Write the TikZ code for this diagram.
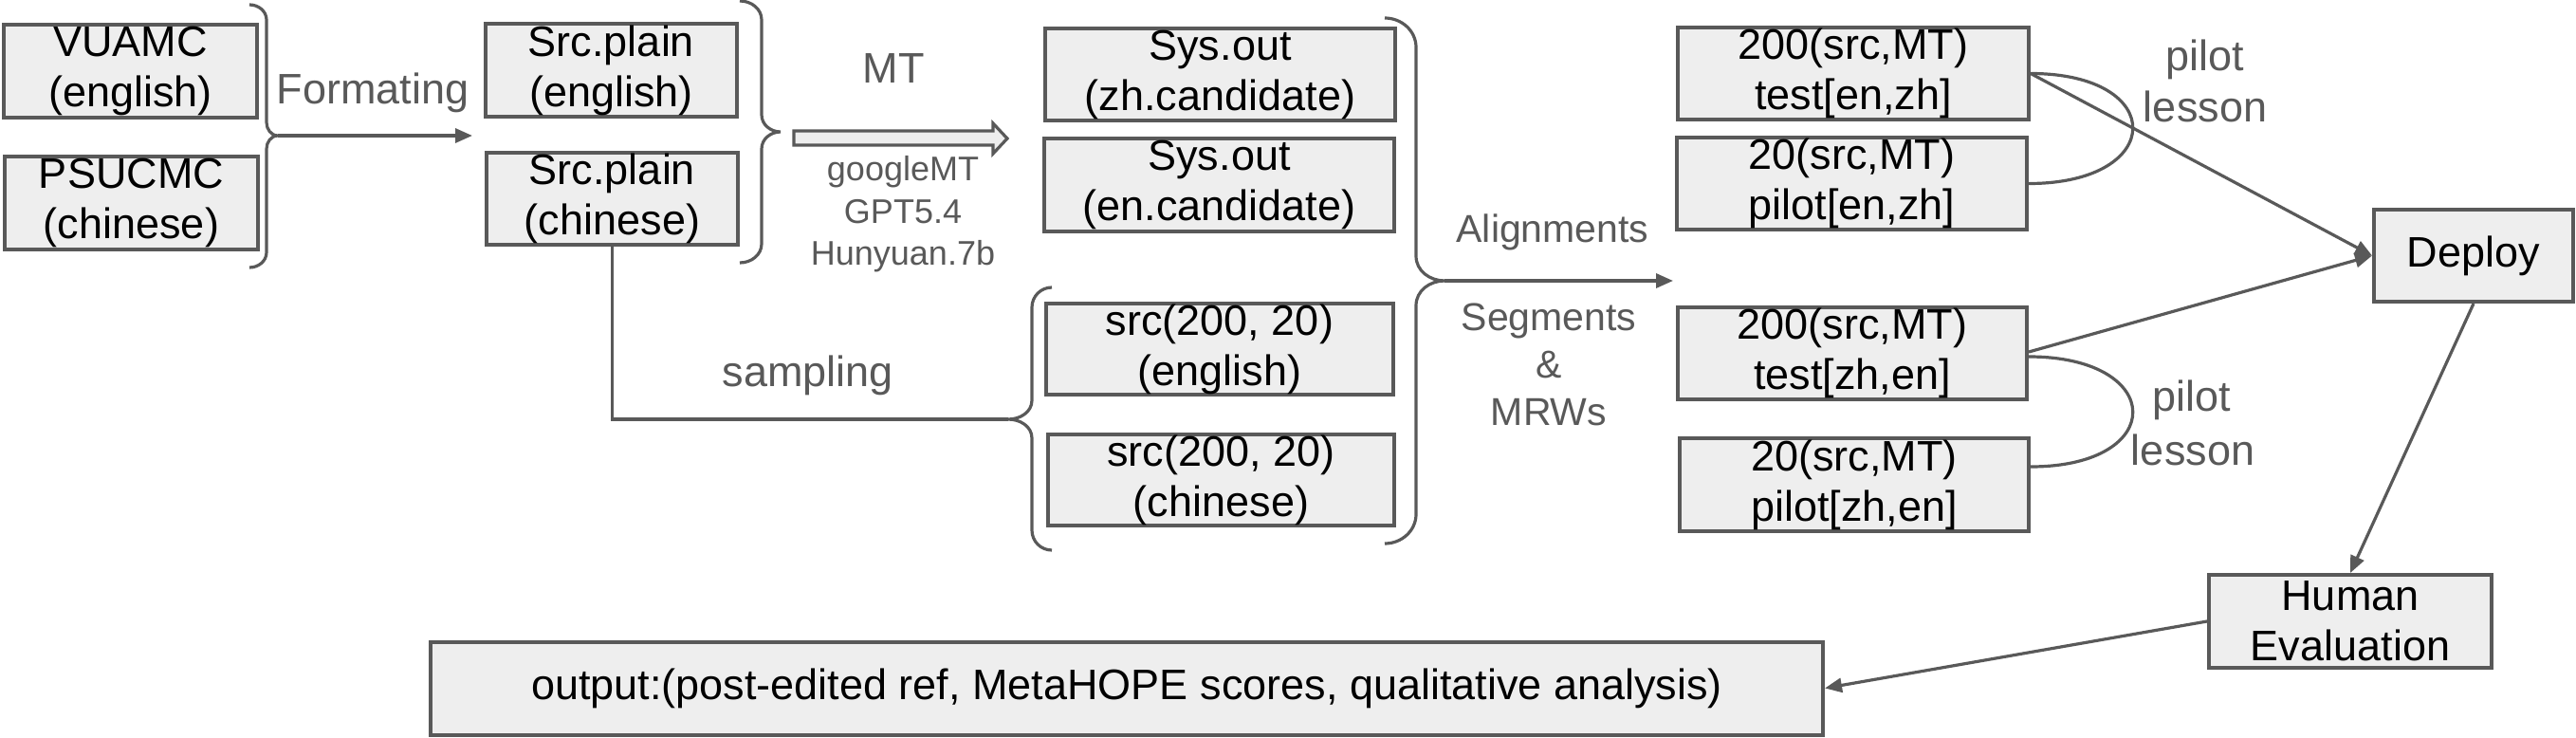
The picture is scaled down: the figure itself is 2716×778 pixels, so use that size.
\documentclass[tikz,border=0pt]{standalone}
\usepackage{fontspec}
\setmainfont{Liberation Sans}
\usetikzlibrary{arrows.meta}
\definecolor{ln}{HTML}{595959}
\definecolor{bf}{HTML}{EEEEEE}
\begin{document}
\begin{tikzpicture}[x=1pt,y=-1pt,
  nbox/.style={draw=ln, line width=4pt, fill=bf, inner sep=0pt, align=center,
    text=black, font=\fontsize{45}{53}\selectfont},
  lbl/.style={text=ln, font=\fontsize{45}{53}\selectfont, anchor=base, inner sep=0pt},
  lbls/.style={text=ln, font=\fontsize{41}{49}\selectfont, anchor=base, inner sep=0pt},
  mtlist/.style={text=ln, font=\fontsize{36}{44}\selectfont, anchor=base, inner sep=0pt},
  bracepath/.style={draw=ln, line width=3.2pt},
  conn/.style={draw=ln, line width=3.2pt},
  arr/.style={conn, -{Triangle[length=18pt,width=15pt]}},
]
\useasboundingbox (0,0) rectangle (2716,778);

% boxes
\node[nbox, minimum width=267pt, minimum height=98pt] (vuamc) at (137.5,75) {VUAMC\\(english)};
\node[nbox, minimum width=267pt, minimum height=98pt] (psucmc) at (138.5,214) {PSUCMC\\(chinese)};
\node[nbox, minimum width=265pt, minimum height=98pt] (srcen) at (644.5,74) {Src.plain\\(english)};
\node[nbox, minimum width=265pt, minimum height=97pt] (srczh) at (645.5,209.5) {Src.plain\\(chinese)};
\node[nbox, minimum width=369pt, minimum height=97pt] (syszh) at (1286.5,78.5) {Sys.out\\(zh.candidate)};
\node[nbox, minimum width=369pt, minimum height=98pt] (sysen) at (1285.5,195) {Sys.out\\(en.candidate)};
\node[nbox, minimum width=366pt, minimum height=96pt] (sampen) at (1286,368) {src(200, 20)\\(english)};
\node[nbox, minimum width=365pt, minimum height=96pt] (sampzh) at (1287.5,506) {src(200, 20)\\(chinese)};
\node[nbox, minimum width=370pt, minimum height=97pt] (testenzh) at (1954,77.5) {200(src,MT)\\test[en,zh]};
\node[nbox, minimum width=369pt, minimum height=97pt] (piloten) at (1952.5,193.5) {20(src,MT)\\pilot[en,zh]};
\node[nbox, minimum width=368pt, minimum height=97pt] (testzh) at (1953,372.5) {200(src,MT)\\test[zh,en]};
\node[nbox, minimum width=368pt, minimum height=98pt] (pilotzh) at (1955,511) {20(src,MT)\\pilot[zh,en]};
\node[nbox, minimum width=210pt, minimum height=97pt] (deploy) at (2608,269.5) {Deploy};
\node[nbox, minimum width=298pt, minimum height=98pt] (human) at (2478,655) {Human\\Evaluation};
\node[nbox, minimum width=1468pt, minimum height=98pt] (output) at (1188,725.5) {output:(post-edited ref, MetaHOPE scores, qualitative analysis)};

% braces
\coordinate (b1tip) at (293,143);
\coordinate (b2tip) at (823,139);
\coordinate (b3tip) at (1063,442);
\coordinate (b4tip) at (1523,296);
\path[bracepath] (263,5) to[out=0,in=90] (281,21) -- (281,129) to[out=-90,in=180] (b1tip)
  to[out=180,in=90] (281,157) -- (281,266) to[out=-90,in=0] (263,282);
\path[bracepath] (780,1) to[out=0,in=90] (803,21) -- (803,121) to[out=-90,in=180] (b2tip)
  to[out=180,in=90] (803,157) -- (803,257) to[out=-90,in=0] (780,277);
\path[bracepath] (1109,303) to[out=180,in=90] (1088,324) -- (1088,422) to[out=-90,in=0] (b3tip)
  to[out=0,in=90] (1088,462) -- (1088,559) to[out=-90,in=180] (1109,580);
\path[bracepath] (1460,19) to[out=0,in=90] (1493,50) -- (1493,270) to[out=-90,in=180] (b4tip)
  to[out=180,in=90] (1493,322) -- (1493,542) to[out=-90,in=0] (1460,573);

% MT block arrow
\path[draw=ln, fill=bf, line width=3.2pt, line join=miter]
  (837,138) -- (1047,138) -- (1047,130) -- (1062,146) -- (1047,162) -- (1047,153) -- (837,153) -- cycle;

% connectors
\coordinate (fmtend) at (498,143);
\coordinate (alignend) at (1764,296);
\draw[arr] (b1tip) -- (fmtend);
\draw[arr] (b4tip) -- (alignend);
\draw[conn] (srczh.south) |- (b3tip);
\draw[arr] (testenzh.east) -- (deploy.west);
\draw[arr] ([yshift=1.5pt]testzh.east) -- (deploy.west);
\draw[conn] (testenzh.east) .. controls +(145,0) and +(145,0) .. (piloten.east);
\draw[conn] ([yshift=-3.5pt]testzh.east) .. controls +(145,0) and +(145,0) .. ([yshift=19pt]pilotzh.east);
\draw[arr] (deploy.south) -- (human.north);
\draw[arr] (human.west) -- (output.east);

% labels
\node[lbl] (lfmt) at (393,110) {Formating};
\node[lbl] (lmt) at (942,88) {MT};
\node[mtlist] (lm1) at (952,190) {googleMT};
\node[mtlist] (lm2) at (952,235) {GPT5.4};
\node[mtlist] (lm3) at (952,279) {Hunyuan.7b};
\node[lbl] (lsamp) at (852,407) {sampling};
\node[lbls] (lalign) at (1637,255) {Alignments};
\node[lbls] (lseg) at (1633,348) {Segments};
\node[lbls] (lamp) at (1633,398) {\&};
\node[lbls] (lmrw) at (1633,448) {MRWs};
\node[lbl] (lp1) at (2325,75) {pilot};
\node[lbl] (ll1) at (2325,129) {lesson};
\node[lbl] (lp2) at (2311,433) {pilot};
\node[lbl] (ll2) at (2312,490) {lesson};
\end{tikzpicture}
\end{document}
